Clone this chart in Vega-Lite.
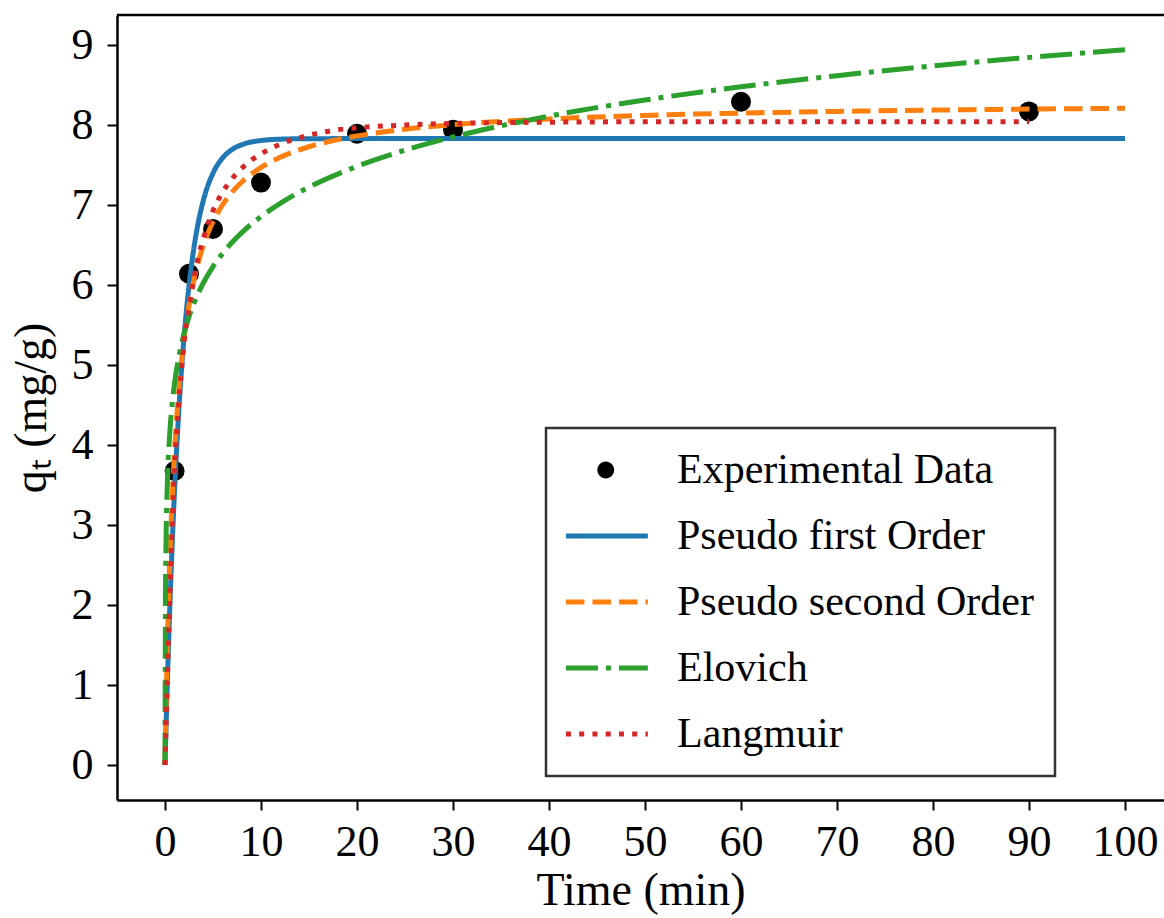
{
  "$schema": "https://vega.github.io/schema/vega-lite/v6.json",
  "width": 1047,
  "height": 785,
  "autosize": {"type": "none"},
  "padding": {"left": 117, "top": 15, "right": 0, "bottom": 118},
  "background": "white",
  "config": {
    "view": {"stroke": null},
    "font": "Liberation Serif",
    "axis": {
      "labelFont": "Liberation Serif",
      "titleFont": "Liberation Serif",
      "labelFontSize": 44,
      "titleFontSize": 46,
      "titleFontWeight": "normal",
      "labelColor": "black",
      "titleColor": "black",
      "domainColor": "black",
      "domainWidth": 2.5,
      "tickColor": "black",
      "tickWidth": 2,
      "tickSize": 10,
      "grid": false
    },
    "legend": {
      "labelFont": "Liberation Serif",
      "labelFontSize": 42,
      "labelColor": "black",
      "labelLimit": 600
    }
  },
  "datasets": {
    "exp": [
      {"series": "Experimental Data", "t": 1, "q": 3.675},
      {"series": "Experimental Data", "t": 2.5, "q": 6.14},
      {"series": "Experimental Data", "t": 5, "q": 6.70},
      {"series": "Experimental Data", "t": 10, "q": 7.28},
      {"series": "Experimental Data", "t": 20, "q": 7.89},
      {"series": "Experimental Data", "t": 30, "q": 7.94},
      {"series": "Experimental Data", "t": 60, "q": 8.29},
      {"series": "Experimental Data", "t": 90, "q": 8.17}
    ],
    "models": [
      {"series": "Pseudo first Order", "t": 0, "q": 0},
      {"series": "Pseudo first Order", "t": 0.25, "q": 1.057},
      {"series": "Pseudo first Order", "t": 0.5, "q": 1.971},
      {"series": "Pseudo first Order", "t": 0.75, "q": 2.762},
      {"series": "Pseudo first Order", "t": 1, "q": 3.446},
      {"series": "Pseudo first Order", "t": 1.5, "q": 4.549},
      {"series": "Pseudo first Order", "t": 2, "q": 5.375},
      {"series": "Pseudo first Order", "t": 2.5, "q": 5.993},
      {"series": "Pseudo first Order", "t": 3, "q": 6.456},
      {"series": "Pseudo first Order", "t": 3.5, "q": 6.802},
      {"series": "Pseudo first Order", "t": 4, "q": 7.060},
      {"series": "Pseudo first Order", "t": 5, "q": 7.399},
      {"series": "Pseudo first Order", "t": 6, "q": 7.589},
      {"series": "Pseudo first Order", "t": 7, "q": 7.695},
      {"series": "Pseudo first Order", "t": 8, "q": 7.754},
      {"series": "Pseudo first Order", "t": 9, "q": 7.788},
      {"series": "Pseudo first Order", "t": 10, "q": 7.806},
      {"series": "Pseudo first Order", "t": 12, "q": 7.823},
      {"series": "Pseudo first Order", "t": 15, "q": 7.829},
      {"series": "Pseudo first Order", "t": 20, "q": 7.83},
      {"series": "Pseudo first Order", "t": 50, "q": 7.83},
      {"series": "Pseudo first Order", "t": 100, "q": 7.83},
      {"series": "Pseudo second Order", "t": 0, "q": 0},
      {"series": "Pseudo second Order", "t": 0.25, "q": 1.524},
      {"series": "Pseudo second Order", "t": 0.5, "q": 2.576},
      {"series": "Pseudo second Order", "t": 0.75, "q": 3.345},
      {"series": "Pseudo second Order", "t": 1, "q": 3.932},
      {"series": "Pseudo second Order", "t": 1.5, "q": 4.768},
      {"series": "Pseudo second Order", "t": 2, "q": 5.336},
      {"series": "Pseudo second Order", "t": 2.5, "q": 5.746},
      {"series": "Pseudo second Order", "t": 3, "q": 6.057},
      {"series": "Pseudo second Order", "t": 3.5, "q": 6.300},
      {"series": "Pseudo second Order", "t": 4, "q": 6.496},
      {"series": "Pseudo second Order", "t": 5, "q": 6.791},
      {"series": "Pseudo second Order", "t": 6, "q": 7.003},
      {"series": "Pseudo second Order", "t": 7, "q": 7.163},
      {"series": "Pseudo second Order", "t": 8, "q": 7.288},
      {"series": "Pseudo second Order", "t": 10, "q": 7.470},
      {"series": "Pseudo second Order", "t": 12, "q": 7.597},
      {"series": "Pseudo second Order", "t": 15, "q": 7.728},
      {"series": "Pseudo second Order", "t": 20, "q": 7.863},
      {"series": "Pseudo second Order", "t": 25, "q": 7.947},
      {"series": "Pseudo second Order", "t": 30, "q": 8.004},
      {"series": "Pseudo second Order", "t": 40, "q": 8.076},
      {"series": "Pseudo second Order", "t": 50, "q": 8.120},
      {"series": "Pseudo second Order", "t": 60, "q": 8.149},
      {"series": "Pseudo second Order", "t": 70, "q": 8.170},
      {"series": "Pseudo second Order", "t": 80, "q": 8.186},
      {"series": "Pseudo second Order", "t": 90, "q": 8.199},
      {"series": "Pseudo second Order", "t": 100, "q": 8.209},
      {"series": "Elovich", "t": 0, "q": 0},
      {"series": "Elovich", "t": 0.05, "q": 2.149},
      {"series": "Elovich", "t": 0.1, "q": 2.733},
      {"series": "Elovich", "t": 0.25, "q": 3.536},
      {"series": "Elovich", "t": 0.5, "q": 4.154},
      {"series": "Elovich", "t": 0.75, "q": 4.518},
      {"series": "Elovich", "t": 1, "q": 4.777},
      {"series": "Elovich", "t": 1.5, "q": 5.142},
      {"series": "Elovich", "t": 2, "q": 5.402},
      {"series": "Elovich", "t": 2.5, "q": 5.603},
      {"series": "Elovich", "t": 3, "q": 5.768},
      {"series": "Elovich", "t": 4, "q": 6.028},
      {"series": "Elovich", "t": 5, "q": 6.230},
      {"series": "Elovich", "t": 6, "q": 6.395},
      {"series": "Elovich", "t": 7, "q": 6.534},
      {"series": "Elovich", "t": 8, "q": 6.655},
      {"series": "Elovich", "t": 10, "q": 6.856},
      {"series": "Elovich", "t": 12, "q": 7.021},
      {"series": "Elovich", "t": 15, "q": 7.223},
      {"series": "Elovich", "t": 20, "q": 7.483},
      {"series": "Elovich", "t": 25, "q": 7.685},
      {"series": "Elovich", "t": 30, "q": 7.850},
      {"series": "Elovich", "t": 40, "q": 8.111},
      {"series": "Elovich", "t": 50, "q": 8.312},
      {"series": "Elovich", "t": 60, "q": 8.478},
      {"series": "Elovich", "t": 70, "q": 8.617},
      {"series": "Elovich", "t": 80, "q": 8.738},
      {"series": "Elovich", "t": 90, "q": 8.845},
      {"series": "Elovich", "t": 100, "q": 8.940},
      {"series": "Langmuir", "t": 0, "q": 0},
      {"series": "Langmuir", "t": 0.25, "q": 1.1},
      {"series": "Langmuir", "t": 0.5, "q": 2.1},
      {"series": "Langmuir", "t": 0.75, "q": 3.0},
      {"series": "Langmuir", "t": 1, "q": 3.75},
      {"series": "Langmuir", "t": 1.25, "q": 4.2},
      {"series": "Langmuir", "t": 1.5, "q": 4.65},
      {"series": "Langmuir", "t": 1.75, "q": 4.98},
      {"series": "Langmuir", "t": 2, "q": 5.3},
      {"series": "Langmuir", "t": 2.5, "q": 5.72},
      {"series": "Langmuir", "t": 3, "q": 6.07},
      {"series": "Langmuir", "t": 3.5, "q": 6.37},
      {"series": "Langmuir", "t": 4, "q": 6.58},
      {"series": "Langmuir", "t": 4.5, "q": 6.77},
      {"series": "Langmuir", "t": 5, "q": 6.93},
      {"series": "Langmuir", "t": 6, "q": 7.16},
      {"series": "Langmuir", "t": 7, "q": 7.33},
      {"series": "Langmuir", "t": 8, "q": 7.46},
      {"series": "Langmuir", "t": 9, "q": 7.56},
      {"series": "Langmuir", "t": 10, "q": 7.64},
      {"series": "Langmuir", "t": 12, "q": 7.76},
      {"series": "Langmuir", "t": 14, "q": 7.84},
      {"series": "Langmuir", "t": 16, "q": 7.9},
      {"series": "Langmuir", "t": 18, "q": 7.94},
      {"series": "Langmuir", "t": 20, "q": 7.965},
      {"series": "Langmuir", "t": 25, "q": 8.0},
      {"series": "Langmuir", "t": 30, "q": 8.02},
      {"series": "Langmuir", "t": 40, "q": 8.035},
      {"series": "Langmuir", "t": 50, "q": 8.04},
      {"series": "Langmuir", "t": 60, "q": 8.04},
      {"series": "Langmuir", "t": 70, "q": 8.04},
      {"series": "Langmuir", "t": 80, "q": 8.04},
      {"series": "Langmuir", "t": 90, "q": 8.04}
    ],
    "frame": [{"top": 9.375}]
  },
  "encoding": {
    "x": {
      "field": "t", "type": "quantitative",
      "scale": {"domain": [-5, 104.0625], "nice": false, "zero": false},
      "axis": {"title": "Time (min)", "values": [0, 10, 20, 30, 40, 50, 60, 70, 80, 90, 100], "labelPadding": 10, "titlePadding": 4, "labelFlush": false}
    },
    "y": {
      "field": "q", "type": "quantitative",
      "scale": {"domain": [-0.4375, 9.375], "nice": false, "zero": false},
      "axis": {"title": "qₜ (mg/g)", "values": [0, 1, 2, 3, 4, 5, 6, 7, 8, 9], "labelPadding": 14, "titlePadding": 16, "labelFlush": false}
    }
  },
  "layer": [
    {
      "data": {"name": "frame"},
      "mark": {"type": "rule", "color": "black", "strokeWidth": 2.5},
      "encoding": {"x": null, "y": {"field": "top", "type": "quantitative"}}
    },
    {
      "data": {"name": "exp"},
      "mark": {"type": "point", "filled": true, "size": 400, "opacity": 1},
      "encoding": {
        "color": {"field": "series", "type": "nominal"}
      }
    },
    {
      "data": {"name": "models"},
      "mark": {"type": "line", "strokeWidth": 5, "interpolate": "monotone"},
      "encoding": {
        "color": {
          "field": "series", "type": "nominal",
          "scale": {
            "domain": ["Experimental Data", "Pseudo first Order", "Pseudo second Order", "Elovich", "Langmuir"],
            "range": ["black", "#1f77b4", "#ff7f0e", "#2ca02c", "#d62728"]
          },
          "legend": {
            "title": null,
            "orient": "none",
            "legendX": 429,
            "legendY": 413,
            "padding": 21,
            "rowPadding": 24,
            "symbolSize": 441,
            "symbolStrokeWidth": 5,
            "labelOffset": 68,
            "strokeColor": "#333333",
            "fillColor": "white",
            "symbolLimit": 0,
            "encode": {
              "legend": {"update": {"strokeWidth": {"value": 2.5}}},
              "symbols": {"update": {
                "shape": {"signal": "datum.value === 'Experimental Data' ? 'M0.89,0A0.8,0.8 0 1,0 2.49,0A0.8,0.8 0 1,0 0.89,0Z' : 'M-2.1,0H5.7'"},
                "fill": {"signal": "datum.value === 'Experimental Data' ? 'black' : 'transparent'"},
                "strokeWidth": {"signal": "datum.value === 'Experimental Data' ? 0 : 5"}
              }}
            }
          }
        },
        "strokeDash": {
          "field": "series", "type": "nominal",
          "scale": {
            "domain": ["Experimental Data", "Pseudo first Order", "Pseudo second Order", "Elovich", "Langmuir"],
            "range": [[1, 0], [1, 0], [18.5, 8], [32, 8, 5, 8], [5, 8.25]]
          },
          "legend": null
        }
      }
    }
  ]
}
